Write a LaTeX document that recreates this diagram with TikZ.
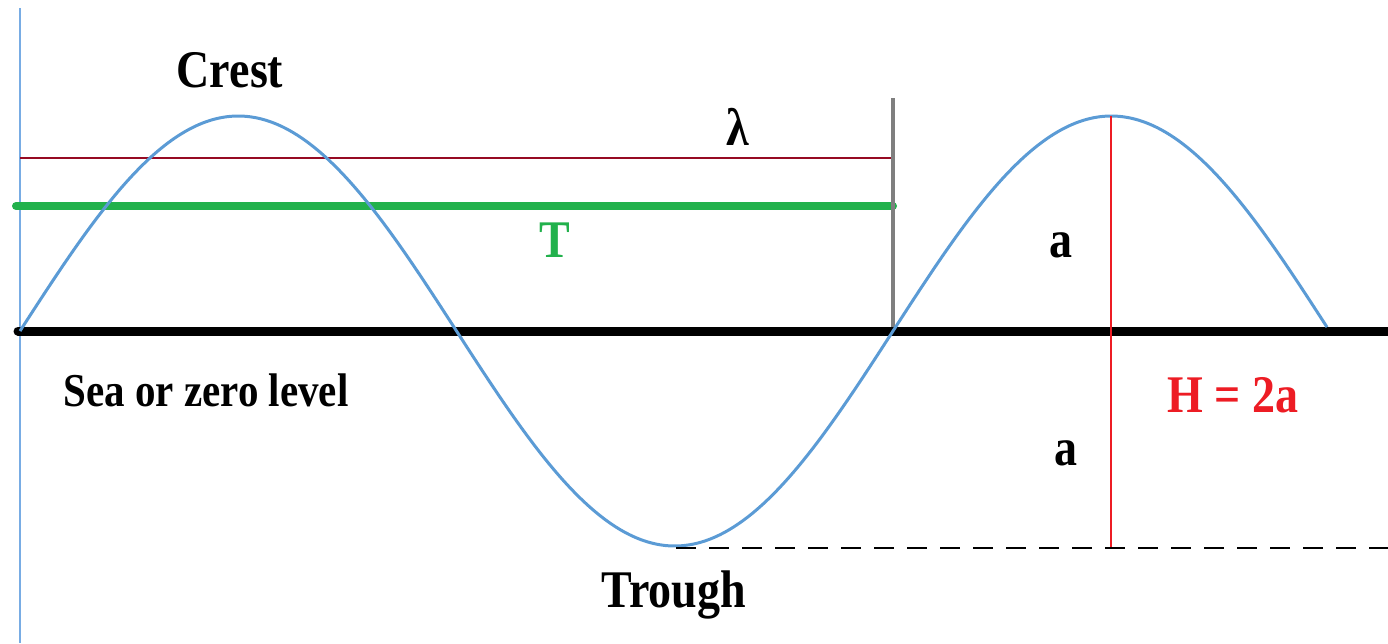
\documentclass[tikz,border=0pt]{standalone}
\usepackage{fontspec}
\setmainfont{Liberation Serif}
\definecolor{wave}{RGB}{91,155,213}
\definecolor{leftblue}{RGB}{120,172,228}
\definecolor{lamred}{RGB}{150,10,35}
\definecolor{tgreen}{RGB}{34,177,76}
\definecolor{hred}{RGB}{237,28,36}
\definecolor{vgray}{RGB}{127,127,127}
\tikzset{
  lbl/.style={anchor=base, inner sep=0pt, font=\fontsize{46}{50}\selectfont\bfseries},
  lblsmall/.style={anchor=base, inner sep=0pt, font=\fontsize{41}{45}\selectfont\bfseries},
  waveline/.style={draw=wave, line width=3pt},
}
\newcommand{\tall}[1]{\scalebox{1}[1.15]{#1}}
\begin{document}
\begin{tikzpicture}[x=1pt,y=-1pt]
\useasboundingbox (0,0) rectangle (1388,643);
% coordinates
\coordinate (lefttop) at (20,8);
\coordinate (leftbot) at (20,643);
\coordinate (lamL) at (20,158);
\coordinate (lamR) at (893,158);
\coordinate (tL) at (16,206);
\coordinate (tR) at (893,206);
\coordinate (gtop) at (893,98);
\coordinate (gbot) at (893,331);
\coordinate (baseL) at (18,331);
\coordinate (baseR) at (1388,331);
\coordinate (crest2) at (1111,116);
\coordinate (hbot) at (1111,548);
\coordinate (dashL) at (676,548);
\coordinate (dashR) at (1388,548);
% lines
\draw[leftblue, line width=2.5pt] (lefttop) -- (leftbot);
\draw[lamred, line width=2pt] (lamL) -- (lamR);
\draw[tgreen, line width=8pt, line cap=round] (tL) -- (tR);
\draw[vgray, line width=4pt] (gtop) -- (gbot);
\draw[black, line width=9pt, line cap=round] (baseL) -- (baseR);
\draw[waveline] plot[domain=20:1327, samples=240, smooth] (\x, {331-215*sin(((\x-20)/873)*360)});
\draw[hred, line width=2pt] (crest2) -- (hbot);
\draw[black, line width=2.5pt, dash pattern=on 20pt off 13pt] (dashL) -- (dashR);
% labels
\node[lbl] (crest) at (230,87) {\tall{Crest}};
\node[lbl] (lambda) at (738,145) {\tall{λ}};
\node[lbl, text=tgreen] (T) at (555,257) {\tall{T}};
\node[lbl] (a1) at (1061,257) {\tall{a}};
\node[lbl] (a2) at (1066,465) {\tall{a}};
\node[lbl, text=hred] (H) at (1233,412) {\tall{H = 2a}};
\node[lblsmall] (sea) at (206,406) {\tall{Sea or zero level}};
\node[lbl] (trough) at (674,607) {\tall{Trough}};
\end{tikzpicture}
\end{document}
